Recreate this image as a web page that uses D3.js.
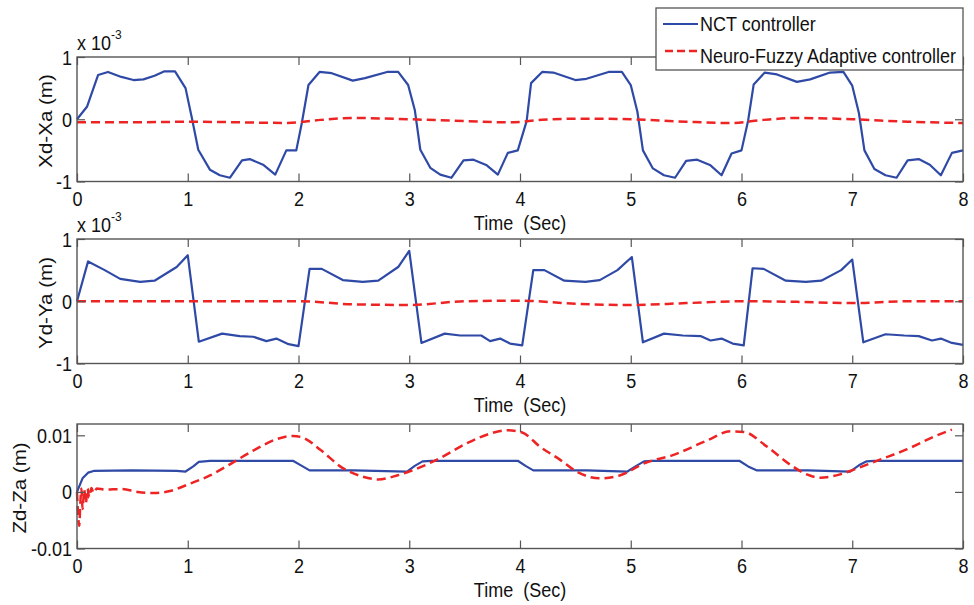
<!DOCTYPE html>
<html><head><meta charset="utf-8">
<script src="https://cdn.jsdelivr.net/npm/d3@7"></script>
<style>
html,body{margin:0;padding:0;background:#fff;}
svg text{font-family:"Liberation Sans",Arial,sans-serif;fill:#111;}
</style></head><body>
<svg id="chart" width="974" height="605"></svg>
<script>
// Series names shown in the legend
const seriesNames = ["NCT controller", "Neuro-Fuzzy Adaptive controller"];
const xTicks = [0, 1, 2, 3, 4, 5, 6, 7, 8];
const xTitle = "Time  (Sec)";

// X tracking error, values in units of 1e-3 m : [time, error]
const xErrNCT = [
  [0,0.0],[0.09,0.2],[0.19,0.71],[0.28,0.76],[0.4,0.68],[0.51,0.63],[0.6,0.64],[0.7,0.7],[0.79,0.77],[0.885,0.77],
  [0.98,0.5],[1.035,0.04],[1.095,-0.49],[1.2,-0.81],[1.29,-0.9],[1.38,-0.94],[1.49,-0.66],[1.56,-0.64],[1.68,-0.73],
  [1.79,-0.89],[1.89,-0.5],[1.98,-0.5],
  [2.03,-0.06],[2.09,0.55],[2.19,0.76],[2.3,0.74],[2.49,0.62],[2.6,0.66],[2.8,0.76],[2.9,0.76],[2.99,0.55],[3.05,0.15],
  [3.1,-0.49],[3.19,-0.78],[3.28,-0.89],[3.38,-0.94],[3.49,-0.66],[3.58,-0.65],[3.7,-0.74],[3.8,-0.89],[3.89,-0.54],[3.98,-0.5],
  [4.06,-0.03],[4.1,0.58],[4.2,0.76],[4.3,0.75],[4.5,0.63],[4.6,0.65],[4.8,0.76],[4.92,0.76],[5.0,0.55],[5.06,0.12],
  [5.11,-0.5],[5.2,-0.79],[5.3,-0.9],[5.4,-0.94],[5.5,-0.67],[5.6,-0.65],[5.72,-0.74],[5.82,-0.9],[5.91,-0.55],[6.0,-0.5],
  [6.06,-0.02],[6.11,0.56],[6.21,0.75],[6.32,0.72],[6.5,0.6],[6.62,0.64],[6.8,0.75],[6.92,0.76],[7.0,0.54],[7.06,0.1],
  [7.11,-0.5],[7.2,-0.8],[7.3,-0.9],[7.4,-0.94],[7.5,-0.66],[7.6,-0.64],[7.7,-0.73],[7.8,-0.9],[7.9,-0.54],[8.0,-0.5]
];
const xErrNF = [
  [0,-0.05],[0.5,-0.05],[1.0,-0.04],[1.5,-0.05],[1.9,-0.06],[2.2,-0.01],[2.5,0.02],[3.0,0.0],[3.5,-0.03],[3.9,-0.05],
  [4.2,-0.01],[4.5,0.01],[5.0,0.0],[5.5,-0.04],[5.9,-0.06],[6.2,-0.01],[6.5,0.02],[7.0,0.0],[7.5,-0.04],[8.0,-0.06]
];

// Y tracking error, values in units of 1e-3 m
const yErrNCT = [
  [0,0.0],[0.1,0.64],[0.25,0.5],[0.39,0.36],[0.57,0.31],[0.7,0.33],[0.9,0.55],[1.0,0.74],
  [1.1,-0.65],[1.31,-0.52],[1.47,-0.56],[1.59,-0.57],[1.71,-0.64],[1.8,-0.6],[1.91,-0.69],[2.0,-0.72],
  [2.1,0.52],[2.21,0.52],[2.4,0.34],[2.58,0.31],[2.72,0.33],[2.9,0.55],[3.0,0.81],
  [3.11,-0.67],[3.32,-0.52],[3.46,-0.55],[3.65,-0.55],[3.73,-0.64],[3.82,-0.6],[3.91,-0.68],[4.02,-0.71],
  [4.12,0.5],[4.22,0.5],[4.4,0.33],[4.59,0.31],[4.72,0.34],[4.88,0.5],[5.01,0.71],
  [5.11,-0.66],[5.3,-0.52],[5.47,-0.55],[5.63,-0.56],[5.72,-0.63],[5.82,-0.6],[5.92,-0.68],[6.02,-0.71],
  [6.1,0.53],[6.2,0.52],[6.4,0.33],[6.58,0.31],[6.72,0.33],[6.9,0.5],[7.0,0.67],
  [7.1,-0.66],[7.3,-0.53],[7.47,-0.55],[7.6,-0.56],[7.72,-0.63],[7.8,-0.6],[7.9,-0.67],[8.0,-0.7]
];
const yErrNF = [
  [0,0.0],[1.0,0.0],[2.0,0.0],[2.5,-0.05],[3.0,-0.06],[3.5,0.0],[4.0,0.01],[4.5,-0.04],[5.0,-0.06],
  [5.5,-0.03],[6.0,0.0],[6.5,-0.01],[7.0,-0.03],[7.5,0.0],[8.0,0.0]
];

// Z tracking error, values in m
const zErrNCT = [
  [0,0],[0.05,0.0024],[0.1,0.0034],[0.15,0.0037],[0.5,0.0038],[0.9,0.0037],[0.98,0.0036],[1.05,0.0045],[1.1,0.0053],
  [1.2,0.0055],[1.95,0.0055],[2.03,0.0046],[2.1,0.0038],[2.5,0.0038],[2.98,0.0036],[3.05,0.0046],[3.12,0.0054],
  [3.2,0.0055],[3.98,0.0055],[4.05,0.0046],[4.12,0.0038],[4.6,0.0038],[4.97,0.0036],[5.05,0.0046],[5.12,0.0054],
  [5.2,0.0055],[5.98,0.0055],[6.06,0.0045],[6.14,0.0038],[6.6,0.0038],[6.98,0.0036],[7.06,0.0047],[7.13,0.0054],
  [7.2,0.0055],[8.0,0.0055]
];
const zErrNF = [
  [0,0],[0.01,-0.004],[0.02,-0.006],[0.03,-0.002],[0.04,0.0006],[0.05,-0.003],[0.065,0.0004],[0.08,-0.002],
  [0.095,0.0006],[0.11,-0.001],[0.13,0.0007],[0.15,-0.0002],[0.18,0.0006],[0.25,0.0004],[0.4,0.0005],[0.55,0.0],
  [0.7,-0.0002],[0.85,0.0002],[1.0,0.0013],[1.2,0.0029],[1.4,0.0051],[1.6,0.0074],[1.8,0.0093],[1.95,0.0099],
  [2.05,0.0095],[2.2,0.0074],[2.4,0.0042],[2.58,0.0027],[2.72,0.0022],[2.89,0.0029],[3.0,0.0036],[3.28,0.006],
  [3.52,0.0086],[3.73,0.0103],[3.88,0.0109],[4.02,0.0105],[4.18,0.008],[4.36,0.0057],[4.51,0.0036],[4.72,0.0024],
  [4.9,0.0029],[5.14,0.0052],[5.38,0.0065],[5.69,0.0091],[5.9,0.0107],[6.02,0.0106],[6.23,0.008],[6.44,0.0048],
  [6.59,0.0031],[6.71,0.0025],[6.89,0.0031],[7.01,0.0039],[7.25,0.0057],[7.49,0.0075],[7.73,0.0097],[7.9,0.011]
];

const yTicksXY = [-1, 0, 1];
const yTickLabelsXY = ["-1", "0", "1"];
const yTicksZ = [-0.01, 0, 0.01];
const yTickLabelsZ = ["-0.01", "0", "0.01"];

const BLUE = "#2f49a6", RED = "#ee2424", FRAME = "#555";
const SY = 1.14; // vertical stretch of lettering

const svg = d3.select("#chart");
const x = d3.scaleLinear().domain([0, 8]).range([77, 963]);

const panels = [
  {top: 57, bottom: 181.5, domain: [-1, 1], ticks: yTicksXY, labels: yTickLabelsXY, title: "Xd-Xa (m)",
   titleX: 52, titleY: 121, exp: true, expY: 50, nct: xErrNCT, nf: xErrNF},
  {top: 239, bottom: 363.5, domain: [-1, 1], ticks: yTicksXY, labels: yTickLabelsXY, title: "Yd-Ya (m)",
   titleX: 52, titleY: 303, exp: true, expY: 232, nct: yErrNCT, nf: yErrNF},
  {top: 424, bottom: 548.5, domain: [-0.01, 0.012], ticks: yTicksZ, labels: yTickLabelsZ, title: "Zd-Za (m)",
   titleX: 26, titleY: 488, exp: false, nct: zErrNCT, nf: zErrNF}
];

panels.forEach(p => {
  const y = d3.scaleLinear().domain(p.domain).range([p.bottom, p.top]);
  const g = svg.append("g");

  // traces
  const lineGen = d3.line().x(d => x(d[0])).y(d => y(d[1]));
  g.append("path").datum(p.nct).attr("d", lineGen)
    .attr("fill", "none").attr("stroke", BLUE).attr("stroke-width", 2.2).attr("stroke-linejoin", "round");
  g.append("path").datum(p.nf).attr("d", lineGen.curve(d3.curveMonotoneX))
    .attr("fill", "none").attr("stroke", RED).attr("stroke-width", 2.5).attr("stroke-dasharray", "9,5");

  // axes with inward ticks on all four sides
  const fmtY = d => p.labels[p.ticks.indexOf(d)];
  const bottomAx = g.append("g").attr("transform", `translate(0,${p.bottom})`)
    .call(d3.axisBottom(x).tickValues(xTicks).tickSize(-8).tickFormat(d3.format("d")));
  g.append("g").attr("transform", `translate(0,${p.top})`)
    .call(d3.axisTop(x).tickValues(xTicks).tickSize(-8).tickFormat(""));
  const leftAx = g.append("g").attr("transform", `translate(77,0)`)
    .call(d3.axisLeft(y).tickValues(p.ticks).tickSize(-8).tickFormat(fmtY));
  g.append("g").attr("transform", `translate(963,0)`)
    .call(d3.axisRight(y).tickValues(p.ticks).tickSize(-8).tickFormat(""));
  g.selectAll(".domain").remove();
  g.selectAll(".tick line").attr("stroke", FRAME).attr("stroke-width", 1.2);
  g.selectAll(".tick text").attr("fill", "#111").style("font-size", "18px")
    .style("font-family", '"Liberation Sans",Arial,sans-serif');
  bottomAx.selectAll(".tick text").attr("y", null).attr("dy", null)
    .attr("transform", `translate(0,24) scale(1,${SY})`);
  leftAx.selectAll(".tick text").attr("x", null).attr("dy", null)
    .attr("transform", `translate(-5,7) scale(1,${SY})`);

  // frame
  g.append("rect").attr("x", 77).attr("y", p.top).attr("width", 886).attr("height", p.bottom - p.top)
    .attr("fill", "none").attr("stroke", FRAME).attr("stroke-width", 1.4);

  // x title
  g.append("text").attr("transform", `translate(520,${p.bottom + 48.5}) scale(1,${SY})`)
    .attr("text-anchor", "middle").style("font-size", "18px").style("white-space", "pre").text(xTitle);

  // y title
  g.append("text").attr("transform", `translate(${p.titleX},${p.titleY}) rotate(-90) scale(${SY},1)`)
    .attr("text-anchor", "middle").style("font-size", "18px").text(p.title);

  // exponent marker
  if (p.exp) {
    const t = g.append("text").attr("transform", `translate(77,${p.expY}) scale(1,${SY})`)
      .style("font-size", "18px");
    t.append("tspan").text("x 10");
    t.append("tspan").attr("dy", -10).style("font-size", "12px").text("-3");
  }
});

// legend
const lg = svg.append("g");
lg.append("rect").attr("x", 656).attr("y", 8).attr("width", 307).attr("height", 62)
  .attr("fill", "#fff").attr("stroke", FRAME).attr("stroke-width", 1.3);
lg.append("line").attr("x1", 663).attr("x2", 698).attr("y1", 24).attr("y2", 24)
  .attr("stroke", BLUE).attr("stroke-width", 2.2);
lg.append("line").attr("x1", 665).attr("x2", 698).attr("y1", 51).attr("y2", 51)
  .attr("stroke", RED).attr("stroke-width", 2.5).attr("stroke-dasharray", "8,4");
lg.append("text").attr("transform", `translate(700,31) scale(1,${SY})`).style("font-size", "18px").text(seriesNames[0]);
lg.append("text").attr("transform", `translate(700,63) scale(1,${SY})`).style("font-size", "18px").text(seriesNames[1]);
</script>
</body></html>
